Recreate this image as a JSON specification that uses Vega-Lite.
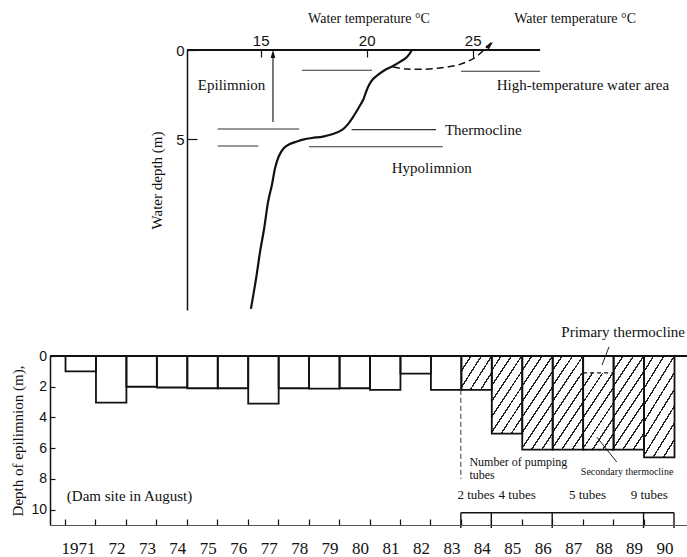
{
  "$schema": "https://vega.github.io/schema/vega-lite/v6.json",
  "background": "white",
  "padding": {"left": 10, "top": 11, "right": 0, "bottom": 0},
  "spacing": 46,
  "bounds": "flush",
  "config": {
    "view": {"stroke": null},
    "font": "Liberation Serif",
    "axis": {
      "grid": false,
      "domainColor": "#111",
      "tickColor": "#111",
      "labelColor": "#111",
      "titleColor": "#111",
      "titleFont": "Liberation Serif",
      "titleFontWeight": "normal",
      "labelFont": "Liberation Sans",
      "labelFlush": false,
      "labelOverlap": false
    },
    "text": {"font": "Liberation Serif", "fontSize": 14, "color": "#111"}
  },
  "datasets": {
    "surface": [{"temp": 11.525, "temp2": 28.18, "depth": 0}],
    "profile": [
      {"temp": 22.14, "depth": 0},
      {"temp": 21.90, "depth": 0.39},
      {"temp": 21.57, "depth": 0.67},
      {"temp": 21.24, "depth": 0.90},
      {"temp": 20.86, "depth": 1.12},
      {"temp": 20.53, "depth": 1.40},
      {"temp": 20.30, "depth": 1.63},
      {"temp": 20.11, "depth": 1.97},
      {"temp": 19.97, "depth": 2.36},
      {"temp": 19.83, "depth": 2.81},
      {"temp": 19.59, "depth": 3.31},
      {"temp": 19.36, "depth": 3.76},
      {"temp": 19.13, "depth": 4.15},
      {"temp": 18.84, "depth": 4.49},
      {"temp": 18.41, "depth": 4.72},
      {"temp": 17.94, "depth": 4.86},
      {"temp": 17.42, "depth": 4.94},
      {"temp": 17.00, "depth": 5.03},
      {"temp": 16.71, "depth": 5.14},
      {"temp": 16.38, "depth": 5.28},
      {"temp": 16.10, "depth": 5.50},
      {"temp": 15.86, "depth": 5.95},
      {"temp": 15.68, "depth": 6.63},
      {"temp": 15.53, "depth": 7.58},
      {"temp": 15.35, "depth": 8.53},
      {"temp": 15.16, "depth": 10.05},
      {"temp": 14.97, "depth": 11.34},
      {"temp": 14.78, "depth": 12.86},
      {"temp": 14.54, "depth": 14.54}
    ],
    "high_temp": [
      {"temp": 21.24, "depth": 0.95},
      {"temp": 21.90, "depth": 1.07},
      {"temp": 22.66, "depth": 1.08},
      {"temp": 23.46, "depth": 1.01},
      {"temp": 24.26, "depth": 0.86},
      {"temp": 24.87, "depth": 0.58},
      {"temp": 25.25, "depth": 0.30},
      {"temp": 25.58, "depth": -0.06},
      {"temp": 25.91, "depth": -0.45}
    ],
    "layer_lines": [
      {"temp": 16.95, "temp2": 20.25, "depth": 1.14},
      {"temp": 24.45, "temp2": 28.18, "depth": 1.19},
      {"temp": 12.97, "temp2": 16.82, "depth": 4.44},
      {"temp": 19.29, "temp2": 23.27, "depth": 4.47},
      {"temp": 12.97, "temp2": 14.89, "depth": 5.39},
      {"temp": 17.28, "temp2": 23.59, "depth": 5.43}
    ],
    "epi_arrow": [{"temp": 15.58, "depth": 0.2, "depth2": 4.04}],
    "epi_head": [{"temp": 15.58, "depth": 0.22}],
    "high_head": [{"temp": 25.82, "depth": -0.28}],
    "top_labels": [
      {"temp": 13.63, "depth": 1.98, "text": "Epilimnion"},
      {"temp": 30.20, "depth": 1.98, "text": "High-temperature water area"},
      {"temp": 25.50, "depth": 4.47, "text": "Thermocline"},
      {"temp": 23.07, "depth": 6.61, "text": "Hypolimnion"}
    ],
    "top_titles": [
      {"temp": 29.83, "depth": -1.72, "text": "Water temperature °C"}
    ],
    "bars": [
      {"year": 1971, "depth": 1.0},
      {"year": 1972, "depth": 3.03},
      {"year": 1973, "depth": 2.0},
      {"year": 1974, "depth": 2.05},
      {"year": 1975, "depth": 2.1},
      {"year": 1976, "depth": 2.1},
      {"year": 1977, "depth": 3.1},
      {"year": 1978, "depth": 2.1},
      {"year": 1979, "depth": 2.12},
      {"year": 1980, "depth": 2.1},
      {"year": 1981, "depth": 2.2},
      {"year": 1982, "depth": 1.15},
      {"year": 1983, "depth": 2.2},
      {"year": 1984, "depth": 2.2},
      {"year": 1985, "depth": 5.05},
      {"year": 1986, "depth": 6.1},
      {"year": 1987, "depth": 6.1},
      {"year": 1988, "depth": 6.1, "primary": 1.1},
      {"year": 1989, "depth": 6.1},
      {"year": 1990, "depth": 6.6}
    ],
    "tube_edges": [{"year": 1984}, {"year": 1985}, {"year": 1987}, {"year": 1990}, {"year": 1991}],
    "leaders": [
      {"year": 1988.865, "year2": 1988.635, "depth": -0.59, "depth2": 0.59},
      {"year": 1989.12, "year2": 1988.46, "depth": 6.9, "depth2": 5.27}
    ],
    "labels_note": [
      {"year": 1971.06, "depth": 9.11, "text": "(Dam site in August)"}
    ],
    "labels_left": [
      {"year": 1984.28, "depth": 6.88, "text": "Number of pumping"},
      {"year": 1984.28, "depth": 7.76, "text": "tubes"}
    ],
    "labels_primary": [
      {"year": 1989.33, "depth": -1.56, "text": "Primary thermocline"}
    ],
    "labels_center": [
      {"year": 1984.5, "depth": 9.07, "text": "2 tubes"},
      {"year": 1985.85, "depth": 9.07, "text": "4 tubes"},
      {"year": 1988.16, "depth": 9.07, "text": "5 tubes"},
      {"year": 1990.19, "depth": 9.07, "text": "9 tubes"}
    ],
    "labels_small": [
      {"year": 1989.46, "depth": 7.55, "text": "Secondary thermocline"}
    ]
  },
  "vconcat": [
    {
      "width": 637,
      "height": 260,
      "layer": [
        {
          "data": {"name": "surface"},
          "mark": {"type": "rule", "stroke": "#111", "strokeWidth": 2},
          "encoding": {
            "x": {
              "field": "temp", "type": "quantitative",
              "scale": {"domain": [5.063, 35.11], "nice": false, "zero": false},
              "axis": {
                "orient": "top", "values": [15, 20, 25], "tickCount": 30, "format": "d", "domain": false, "labelOverlap": false,
                "tickSize": -7, "tickWidth": 1.2, "labelPadding": 9, "labelFontSize": 15,
                "title": "Water temperature °C", "titleFontSize": 14, "titlePadding": 8
              }
            },
            "x2": {"field": "temp2"},
            "y": {
              "field": "depth", "type": "quantitative",
              "scale": {"domain": [0, 14.6], "reverse": true, "nice": false, "zero": false},
              "axis": {
                "values": [0, 5], "tickCount": 30, "format": "d", "offset": -137, "domainWidth": 1.5, "labelOverlap": false,
                "tickSize": -10, "tickWidth": 1.2, "labelPadding": 13, "labelFontSize": 15,
                "title": "Water depth (m)", "titleFontSize": 15, "titlePadding": 11
              }
            }
          }
        },
        {
          "data": {"name": "layer_lines"},
          "mark": {"type": "rule", "stroke": "#333", "strokeWidth": 1.1},
          "encoding": {
            "x": {"field": "temp", "type": "quantitative"},
            "x2": {"field": "temp2"},
            "y": {"field": "depth", "type": "quantitative"}
          }
        },
        {
          "data": {"name": "profile"},
          "mark": {"type": "line", "interpolate": "cardinal", "stroke": "#111", "strokeWidth": 2.2},
          "encoding": {
            "x": {"field": "temp", "type": "quantitative"},
            "y": {"field": "depth", "type": "quantitative"},
            "order": {"field": "depth", "type": "quantitative"}
          }
        },
        {
          "data": {"name": "high_temp"},
          "mark": {"type": "line", "interpolate": "cardinal", "stroke": "#111", "strokeWidth": 1.5, "strokeDash": [7, 4]},
          "encoding": {
            "x": {"field": "temp", "type": "quantitative"},
            "y": {"field": "depth", "type": "quantitative"}
          }
        },
        {
          "data": {"name": "epi_arrow"},
          "mark": {"type": "rule", "stroke": "#111", "strokeWidth": 1.1},
          "encoding": {
            "x": {"field": "temp", "type": "quantitative"},
            "y": {"field": "depth", "type": "quantitative"},
            "y2": {"field": "depth2"}
          }
        },
        {
          "data": {"name": "epi_head"},
          "mark": {"type": "point", "shape": "M0,-1L0.55,1L-0.55,1Z", "filled": true, "color": "#111", "size": 70, "opacity": 1},
          "encoding": {
            "x": {"field": "temp", "type": "quantitative"},
            "y": {"field": "depth", "type": "quantitative"}
          }
        },
        {
          "data": {"name": "high_head"},
          "mark": {"type": "point", "shape": "M0,-1L0.55,1L-0.55,1Z", "filled": true, "color": "#111", "size": 70, "angle": 45, "opacity": 1},
          "encoding": {
            "x": {"field": "temp", "type": "quantitative"},
            "y": {"field": "depth", "type": "quantitative"}
          }
        },
        {
          "data": {"name": "top_labels"},
          "mark": {"type": "text", "align": "center", "baseline": "middle", "fontSize": 15},
          "encoding": {
            "x": {"field": "temp", "type": "quantitative"},
            "y": {"field": "depth", "type": "quantitative"},
            "text": {"field": "text"}
          }
        },
        {
          "data": {"name": "top_titles"},
          "mark": {"type": "text", "align": "center", "baseline": "middle", "fontSize": 14},
          "encoding": {
            "x": {"field": "temp", "type": "quantitative"},
            "y": {"field": "depth", "type": "quantitative"},
            "text": {"field": "text"}
          }
        }
      ]
    },
    {
      "width": 637,
      "height": 169,
      "layer": [
        {
          "data": {"name": "bars"},
          "transform": [{"filter": "datum.year == 1984"}],
          "mark": {
            "type": "rect", "strokeWidth": 0,
            "fill": {"gradient": "linear", "x1": 0, "y1": 0, "x2": 1.138, "y2": 0.805, "stops": [
              {"offset": 0, "color": "white"}, {"offset": 0.17, "color": "white"}, {"offset": 0.17, "color": "#222"}, {"offset": 0.2, "color": "#222"},
              {"offset": 0.2, "color": "white"}, {"offset": 0.37, "color": "white"}, {"offset": 0.37, "color": "#222"}, {"offset": 0.4, "color": "#222"},
              {"offset": 0.4, "color": "white"}, {"offset": 0.57, "color": "white"}, {"offset": 0.57, "color": "#222"}, {"offset": 0.6, "color": "#222"},
              {"offset": 0.6, "color": "white"}, {"offset": 0.77, "color": "white"}, {"offset": 0.77, "color": "#222"}, {"offset": 0.8, "color": "#222"},
              {"offset": 0.8, "color": "white"}, {"offset": 0.97, "color": "white"}, {"offset": 0.97, "color": "#222"}, {"offset": 1, "color": "#222"}
            ]}
          },
          "encoding": {
            "x": {
              "field": "year", "type": "quantitative", "bin": {"step": 1, "extent": [1971, 1991]},
              "scale": {"domain": [1970.507, 1991.427], "nice": false, "zero": false},
              "axis": {
                "values": [1971, 1972, 1973, 1974, 1975, 1976, 1977, 1978, 1979, 1980, 1981, 1982, 1983, 1984, 1985, 1986, 1987, 1988, 1989, 1990],
                "tickCount": 40,
                "title": null, "tickSize": -6, "tickWidth": 1.2, "domainColor": "#555", "domainWidth": 1,
                "labelOverlap": false, "labelPadding": 21,
                "labelOffset": {"condition": {"test": "datum.value == 1971", "value": 13}, "value": 21},
                "labelExpr": "datum.value == 1971 ? '1971' : '' + (datum.value - 1900)",
                "labelFont": "Liberation Serif", "labelFontSize": 17
              }
            },
            "y": {
              "field": "depth", "type": "quantitative",
              "scale": {"domain": [0, 11], "reverse": true, "nice": false, "zero": false},
              "axis": {
                "values": [0, 2, 4, 6, 8, 10], "tickCount": 30, "format": "d", "domainWidth": 1.5, "tickSize": -5, "tickWidth": 1.2,
                "labelOverlap": false, "labelPadding": 8.5, "labelFontSize": 14,
                "title": "Depth of epilimnion (m),", "titleFontSize": 15, "titlePadding": 5
              }
            },
            "y2": {"datum": 0}
          }
        },
        {
          "data": {"name": "bars"},
          "transform": [{"filter": "datum.year == 1985"}],
          "mark": {
            "type": "rect", "strokeWidth": 0,
            "fill": {"gradient": "linear", "x1": 0, "y1": 0, "x2": 0.7006, "y2": 1.178, "stops": [
              {"offset": 0, "color": "white"}, {"offset": 0.106, "color": "white"}, {"offset": 0.106, "color": "#222"}, {"offset": 0.125, "color": "#222"},
              {"offset": 0.125, "color": "white"}, {"offset": 0.231, "color": "white"}, {"offset": 0.231, "color": "#222"}, {"offset": 0.25, "color": "#222"},
              {"offset": 0.25, "color": "white"}, {"offset": 0.356, "color": "white"}, {"offset": 0.356, "color": "#222"}, {"offset": 0.375, "color": "#222"},
              {"offset": 0.375, "color": "white"}, {"offset": 0.481, "color": "white"}, {"offset": 0.481, "color": "#222"}, {"offset": 0.5, "color": "#222"},
              {"offset": 0.5, "color": "white"}, {"offset": 0.606, "color": "white"}, {"offset": 0.606, "color": "#222"}, {"offset": 0.625, "color": "#222"},
              {"offset": 0.625, "color": "white"}, {"offset": 0.731, "color": "white"}, {"offset": 0.731, "color": "#222"}, {"offset": 0.75, "color": "#222"},
              {"offset": 0.75, "color": "white"}, {"offset": 0.856, "color": "white"}, {"offset": 0.856, "color": "#222"}, {"offset": 0.875, "color": "#222"},
              {"offset": 0.875, "color": "white"}, {"offset": 0.981, "color": "white"}, {"offset": 0.981, "color": "#222"}, {"offset": 1, "color": "#222"}
            ]}
          },
          "encoding": {
            "x": {"field": "year", "type": "quantitative", "bin": {"step": 1, "extent": [1971, 1991]}},
            "y": {"field": "depth", "type": "quantitative"},
            "y2": {"datum": 0}
          }
        },
        {
          "data": {"name": "bars"},
          "transform": [{"filter": "datum.year == 1988"}],
          "mark": {
            "type": "rect", "stroke": "#111", "strokeWidth": 1.3, "strokeDash": [4, 3],
            "fill": {"gradient": "linear", "x1": 0, "y1": 0, "x2": 0.7006, "y2": 1.178, "stops": [
              {"offset": 0, "color": "white"}, {"offset": 0.106, "color": "white"}, {"offset": 0.106, "color": "#222"}, {"offset": 0.125, "color": "#222"},
              {"offset": 0.125, "color": "white"}, {"offset": 0.231, "color": "white"}, {"offset": 0.231, "color": "#222"}, {"offset": 0.25, "color": "#222"},
              {"offset": 0.25, "color": "white"}, {"offset": 0.356, "color": "white"}, {"offset": 0.356, "color": "#222"}, {"offset": 0.375, "color": "#222"},
              {"offset": 0.375, "color": "white"}, {"offset": 0.481, "color": "white"}, {"offset": 0.481, "color": "#222"}, {"offset": 0.5, "color": "#222"},
              {"offset": 0.5, "color": "white"}, {"offset": 0.606, "color": "white"}, {"offset": 0.606, "color": "#222"}, {"offset": 0.625, "color": "#222"},
              {"offset": 0.625, "color": "white"}, {"offset": 0.731, "color": "white"}, {"offset": 0.731, "color": "#222"}, {"offset": 0.75, "color": "#222"},
              {"offset": 0.75, "color": "white"}, {"offset": 0.856, "color": "white"}, {"offset": 0.856, "color": "#222"}, {"offset": 0.875, "color": "#222"},
              {"offset": 0.875, "color": "white"}, {"offset": 0.981, "color": "white"}, {"offset": 0.981, "color": "#222"}, {"offset": 1, "color": "#222"}
            ]}
          },
          "encoding": {
            "x": {"field": "year", "type": "quantitative", "bin": {"step": 1, "extent": [1971, 1991]}},
            "y": {"field": "depth", "type": "quantitative"},
            "y2": {"field": "primary"}
          }
        },
        {
          "data": {"name": "bars"},
          "transform": [{"filter": {"field": "year", "oneOf": [1986, 1987, 1989, 1990]}}],
          "mark": {
            "type": "rect", "strokeWidth": 0,
            "fill": {"gradient": "linear", "x1": 0, "y1": 0, "x2": 0.5843, "y2": 1.2023, "stops": [
              {"offset": 0, "color": "white"}, {"offset": 0.0944, "color": "white"}, {"offset": 0.0944, "color": "#222"}, {"offset": 0.1111, "color": "#222"},
              {"offset": 0.1111, "color": "white"}, {"offset": 0.2056, "color": "white"}, {"offset": 0.2056, "color": "#222"}, {"offset": 0.2222, "color": "#222"},
              {"offset": 0.2222, "color": "white"}, {"offset": 0.3167, "color": "white"}, {"offset": 0.3167, "color": "#222"}, {"offset": 0.3333, "color": "#222"},
              {"offset": 0.3333, "color": "white"}, {"offset": 0.4278, "color": "white"}, {"offset": 0.4278, "color": "#222"}, {"offset": 0.4444, "color": "#222"},
              {"offset": 0.4444, "color": "white"}, {"offset": 0.5389, "color": "white"}, {"offset": 0.5389, "color": "#222"}, {"offset": 0.5556, "color": "#222"},
              {"offset": 0.5556, "color": "white"}, {"offset": 0.65, "color": "white"}, {"offset": 0.65, "color": "#222"}, {"offset": 0.6667, "color": "#222"},
              {"offset": 0.6667, "color": "white"}, {"offset": 0.7611, "color": "white"}, {"offset": 0.7611, "color": "#222"}, {"offset": 0.7778, "color": "#222"},
              {"offset": 0.7778, "color": "white"}, {"offset": 0.8722, "color": "white"}, {"offset": 0.8722, "color": "#222"}, {"offset": 0.8889, "color": "#222"},
              {"offset": 0.8889, "color": "white"}, {"offset": 0.9833, "color": "white"}, {"offset": 0.9833, "color": "#222"}, {"offset": 1, "color": "#222"}
            ]}
          },
          "encoding": {
            "x": {"field": "year", "type": "quantitative", "bin": {"step": 1, "extent": [1971, 1991]}},
            "y": {"field": "depth", "type": "quantitative"},
            "y2": {"datum": 0}
          }
        },
        {
          "data": {"name": "bars"},
          "mark": {"type": "rect", "fill": "transparent", "stroke": "#111", "strokeWidth": 1.8},
          "encoding": {
            "x": {"field": "year", "type": "quantitative", "bin": {"step": 1, "extent": [1971, 1991]}},
            "y": {"field": "depth", "type": "quantitative"},
            "y2": {"datum": 0}
          }
        },
        {
          "data": {"values": [{}]},
          "mark": {"type": "rule", "stroke": "#111", "strokeWidth": 2},
          "encoding": {"y": {"datum": 0}}
        },
        {
          "data": {"values": [{}]},
          "mark": {"type": "rule", "stroke": "#333", "strokeWidth": 1, "strokeDash": [5, 3]},
          "encoding": {"x": {"datum": 1984}, "y": {"datum": 2.2}, "y2": {"datum": 8.0}}
        },
        {
          "data": {"values": [{}]},
          "mark": {"type": "rule", "stroke": "#111", "strokeWidth": 1.4},
          "encoding": {"x": {"datum": 1984}, "x2": {"datum": 1991}, "y": {"datum": 10.2}}
        },
        {
          "data": {"name": "tube_edges"},
          "mark": {"type": "rule", "stroke": "#111", "strokeWidth": 1.4},
          "encoding": {
            "x": {"field": "year", "type": "quantitative"},
            "y": {"datum": 10.2},
            "y2": {"datum": 11.2}
          }
        },
        {
          "data": {"name": "leaders"},
          "mark": {"type": "rule", "stroke": "#222", "strokeWidth": 1},
          "encoding": {
            "x": {"field": "year", "type": "quantitative"},
            "x2": {"field": "year2"},
            "y": {"field": "depth", "type": "quantitative"},
            "y2": {"field": "depth2"}
          }
        },
        {
          "data": {"name": "labels_note"},
          "mark": {"type": "text", "align": "left", "baseline": "middle", "fontSize": 15},
          "encoding": {
            "x": {"field": "year", "type": "quantitative"},
            "y": {"field": "depth", "type": "quantitative"},
            "text": {"field": "text"}
          }
        },
        {
          "data": {"name": "labels_left"},
          "mark": {"type": "text", "align": "left", "baseline": "middle", "fontSize": 12},
          "encoding": {
            "x": {"field": "year", "type": "quantitative"},
            "y": {"field": "depth", "type": "quantitative"},
            "text": {"field": "text"}
          }
        },
        {
          "data": {"name": "labels_primary"},
          "mark": {"type": "text", "align": "center", "baseline": "middle", "fontSize": 15},
          "encoding": {
            "x": {"field": "year", "type": "quantitative"},
            "y": {"field": "depth", "type": "quantitative"},
            "text": {"field": "text"}
          }
        },
        {
          "data": {"name": "labels_center"},
          "mark": {"type": "text", "align": "center", "baseline": "middle", "fontSize": 13},
          "encoding": {
            "x": {"field": "year", "type": "quantitative"},
            "y": {"field": "depth", "type": "quantitative"},
            "text": {"field": "text"}
          }
        },
        {
          "data": {"name": "labels_small"},
          "mark": {"type": "text", "align": "center", "baseline": "middle", "fontSize": 10},
          "encoding": {
            "x": {"field": "year", "type": "quantitative"},
            "y": {"field": "depth", "type": "quantitative"},
            "text": {"field": "text"}
          }
        }
      ]
    }
  ]
}
